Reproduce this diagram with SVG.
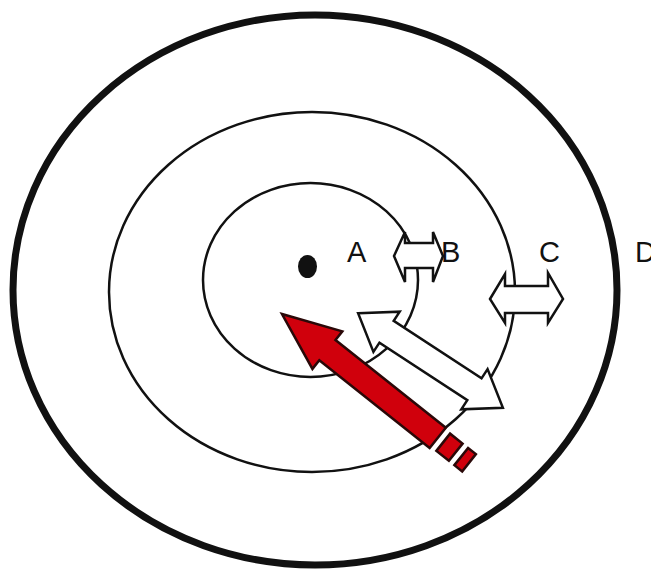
<svg xmlns="http://www.w3.org/2000/svg" width="651" height="574" viewBox="0 0 651 574">
<style>
.ring{fill:none;stroke:#111;stroke-width:2.5}
.outer{fill:none;stroke:#111;stroke-width:7}
.lbl{font-family:"Liberation Sans",Arial,sans-serif;font-size:29px;fill:#111}
.wa{fill:#fff;stroke:#111;stroke-width:2.5;stroke-linejoin:miter}
.ra{fill:#d0000c;stroke:#2a0808;stroke-width:2.5;stroke-linejoin:miter}
</style>
<rect width="651" height="574" fill="#fff"/>
<g id="D"><ellipse class="outer" cx="315" cy="290" rx="302" ry="275"/><text class="lbl" x="635" y="262">D</text></g>
<g id="C"><ellipse class="ring" cx="312" cy="292" rx="203" ry="180"/><text class="lbl" x="539" y="262">C</text></g>
<g id="B"><ellipse class="ring" cx="310.5" cy="280" rx="107.5" ry="97"/><text class="lbl" x="441" y="262">B</text></g>
<g id="A"><ellipse cx="307.5" cy="266.5" rx="9.5" ry="11.5" fill="#111"/><text class="lbl" x="347" y="262">A</text></g>
<g id="connectors">
<polygon class="wa" points="394,256 405,232 405,243 433,243 433,232 443,256 433,282 433,268 405,268 405,282"/>
<polygon class="wa" points="490,299 505,274 505,286 548,286 548,273 563,299 548,323 548,313 505,313 505,323"/>
<polygon class="wa" transform="translate(430.5,360.5) rotate(33.2)" points="-86.5,0 -52.5,-24 -52.5,-13 52.5,-13 52.5,-24 86.5,0 52.5,24 52.5,13 -52.5,13 -52.5,24"/>
<g class="ra" transform="translate(282,314) rotate(38.5)">
<polygon points="0,0 58,-24 58,-13 199,-13 199,13 58,13 58,24"/>
<rect x="206" y="-11" width="16" height="22"/>
<rect x="229" y="-11" width="10" height="22"/>
</g>
</g>
</svg>
